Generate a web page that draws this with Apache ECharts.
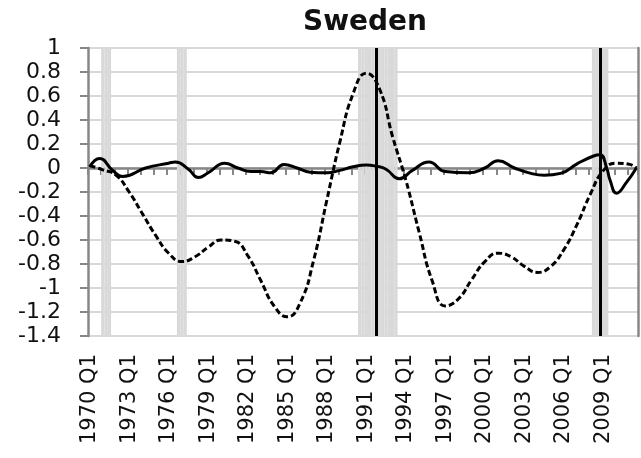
<!DOCTYPE html>
<html>
<head>
<meta charset="utf-8">
<script src="https://cdn.jsdelivr.net/npm/echarts@6/dist/echarts.min.js"></script>
<style>
  html, body { margin: 0; padding: 0; background: #ffffff; }
  #chart { width: 641px; height: 458px; }
</style>
</head>
<body>
<div id="chart"></div>
<script>
// Quarterly categories, 1970 Q1 – 2011 Q3
const firstYear = 1970;
const lastQuarter = '2011 Q3';
const quarters = [];
for (let y = firstYear; ; y++) {
  let done = false;
  for (let q = 1; q <= 4; q++) {
    const name = y + ' Q' + q;
    quarters.push(name);
    if (name === lastQuarter) { done = true; break; }
  }
  if (done) break;
}

// Y axis range
const yMin = -1.4;
const yMax = 1;
const yStep = 0.2;

// Shaded periods (first and last quarter of each)
const shadedPeriods = [
  ['1971 Q1', '1971 Q3'],
  ['1976 Q4', '1977 Q2'],
  ['1990 Q3', '1993 Q2'],
  ['2008 Q2', '2009 Q2']
];

// Crisis dates, drawn as vertical lines
const crisisQuarters = ['1991 Q4', '2008 Q4'];

// Dashed series, one reading per year (Q1)
const financialCycle = [
  ['1970 Q1', 0.02],
  ['1971 Q1', -0.015],
  ['1972 Q1', -0.06],
  ['1973 Q1', -0.20],
  ['1974 Q1', -0.38],
  ['1975 Q1', -0.56],
  ['1976 Q1', -0.71],
  ['1977 Q1', -0.78],
  ['1978 Q1', -0.74],
  ['1979 Q1', -0.66],
  ['1980 Q1', -0.60],
  ['1981 Q1', -0.61],
  ['1982 Q1', -0.73],
  ['1983 Q1', -0.94],
  ['1984 Q1', -1.15],
  ['1985 Q1', -1.24],
  ['1986 Q1', -1.12],
  ['1987 Q1', -0.77],
  ['1988 Q1', -0.27],
  ['1989 Q1', 0.22],
  ['1990 Q1', 0.62],
  ['1991 Q1', 0.79],
  ['1992 Q1', 0.66],
  ['1993 Q1', 0.26],
  ['1994 Q1', -0.10],
  ['1995 Q1', -0.53],
  ['1996 Q1', -0.94],
  ['1997 Q1', -1.15],
  ['1998 Q1', -1.09],
  ['1999 Q1', -0.93],
  ['2000 Q1', -0.78],
  ['2001 Q1', -0.71],
  ['2002 Q1', -0.74],
  ['2003 Q1', -0.82],
  ['2004 Q1', -0.87],
  ['2005 Q1', -0.82],
  ['2006 Q1', -0.68],
  ['2007 Q1', -0.47],
  ['2008 Q1', -0.22],
  ['2009 Q1', -0.02],
  ['2010 Q1', 0.04],
  ['2011 Q1', 0.03],
  ['2011 Q3', 0.0]
];

// Solid series
const businessCycle = [
  ['1970 Q1', 0.01],
  ['1970 Q4', 0.08],
  ['1971 Q4', -0.02],
  ['1972 Q3', -0.07],
  ['1974 Q2', 0.0],
  ['1976 Q1', 0.04],
  ['1976 Q3', 0.05],
  ['1977 Q3', -0.01],
  ['1978 Q2', -0.08],
  ['1979 Q1', -0.04],
  ['1980 Q2', 0.04],
  ['1981 Q2', 0.0],
  ['1982 Q2', -0.03],
  ['1983 Q1', -0.03],
  ['1983 Q4', -0.04],
  ['1984 Q4', 0.03],
  ['1985 Q4', 0.0],
  ['1986 Q4', -0.035],
  ['1988 Q1', -0.04],
  ['1989 Q1', -0.02],
  ['1990 Q1', 0.01],
  ['1991 Q1', 0.025],
  ['1991 Q4', 0.015],
  ['1992 Q3', -0.01],
  ['1993 Q3', -0.09],
  ['1994 Q3', -0.02],
  ['1995 Q4', 0.05],
  ['1997 Q1', -0.03],
  ['1998 Q4', -0.04],
  ['2000 Q1', 0.0],
  ['2001 Q1', 0.06],
  ['2002 Q2', 0.0],
  ['2003 Q3', -0.045],
  ['2004 Q3', -0.06],
  ['2005 Q4', -0.045],
  ['2007 Q1', 0.035],
  ['2008 Q2', 0.10],
  ['2008 Q4', 0.11],
  ['2009 Q2', 0.0],
  ['2009 Q3', -0.10],
  ['2010 Q1', -0.21],
  ['2010 Q4', -0.12],
  ['2011 Q3', 0.0]
];

const titleText = 'Sweden';

// Build per-quarter shading columns from the shaded periods
function isShaded(q) {
  const i = quarters.indexOf(q);
  return shadedPeriods.some(([a, b]) => i >= quarters.indexOf(a) && i <= quarters.indexOf(b));
}
const shadeUp = quarters.map(q => isShaded(q) ? yMax : '-');
const shadeDown = quarters.map(q => isShaded(q) ? yMin : '-');

const axisGray = '#878787';
const gridGray = '#d9d9d9';
const textColor = '#111111';
const labelFont = 'DejaVu Sans';

const chart = echarts.init(document.getElementById('chart'), null, { renderer: 'canvas' });
chart.setOption({
  animation: false,
  backgroundColor: '#ffffff',
  title: {
    text: titleText,
    left: 298,
    top: 4,
    textStyle: { fontFamily: labelFont, fontWeight: 'bold', fontSize: 28, color: textColor }
  },
  grid: { left: 88, right: 3, top: 48, bottom: 122, containLabel: false },
  xAxis: [
    {
      type: 'category',
      data: quarters,
      boundaryGap: true,
      position: 'bottom',
      axisLine: { show: false, onZero: false },
      axisTick: { show: false },
      splitLine: { show: false },
      axisLabel: {
        interval: 11,
        rotate: 90,
        margin: 18,
        fontFamily: labelFont,
        fontSize: 21,
        color: textColor,
        hideOverlap: false
      }
    },
    {
      type: 'category',
      data: quarters,
      boundaryGap: true,
      position: 'bottom',
      axisLine: { show: true, onZero: true, lineStyle: { color: axisGray, width: 2.5 } },
      axisTick: { show: true, interval: 3, length: 7, lineStyle: { color: axisGray, width: 2 } },
      axisLabel: { show: false },
      splitLine: { show: false }
    }
  ],
  yAxis: [
    {
      type: 'value',
      min: yMin,
      max: yMax,
      interval: yStep,
      position: 'left',
      axisLine: { show: true, onZero: false, lineStyle: { color: axisGray, width: 2.5 } },
      axisTick: { show: true, length: 8, lineStyle: { color: axisGray, width: 2 } },
      splitLine: { show: true, lineStyle: { color: gridGray, width: 2 } },
      axisLabel: {
        margin: 27,
        fontFamily: labelFont,
        fontSize: 22,
        color: textColor
      }
    },
    {
      type: 'value',
      min: yMin,
      max: yMax,
      interval: yStep,
      position: 'right',
      axisLine: { show: true, onZero: false, lineStyle: { color: axisGray, width: 2.5 } },
      axisTick: { show: false },
      axisLabel: { show: false },
      splitLine: { show: false }
    }
  ],
  series: [
    {
      type: 'bar',
      data: shadeUp,
      barGap: '-100%',
      barCategoryGap: '0%',
      itemStyle: { color: gridGray },
      silent: true,
      z: 1
    },
    {
      type: 'bar',
      data: shadeDown,
      barGap: '-100%',
      barCategoryGap: '0%',
      itemStyle: { color: gridGray },
      silent: true,
      z: 1
    },
    {
      name: 'financialCycle',
      type: 'line',
      data: financialCycle,
      smooth: true,
      showSymbol: false,
      lineStyle: { color: '#000000', width: 3, type: [6, 3] },
      z: 3,
      markLine: {
        silent: true,
        symbol: ['none', 'none'],
        label: { show: false },
        lineStyle: { color: '#000000', width: 3, type: 'solid' },
        data: crisisQuarters.map(q => ({ xAxis: q }))
      }
    },
    {
      name: 'businessCycle',
      type: 'line',
      data: businessCycle,
      smooth: true,
      showSymbol: false,
      lineStyle: { color: '#000000', width: 3 },
      z: 4
    }
  ]
});
</script>
</body>
</html>
